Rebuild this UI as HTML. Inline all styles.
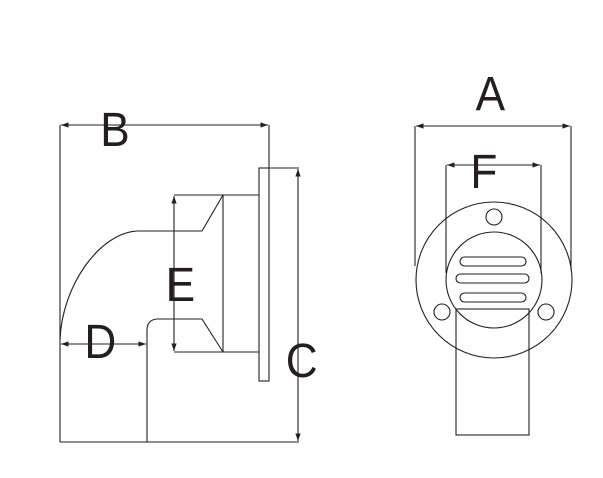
<!DOCTYPE html>
<html><head><style>body{margin:0;background:#fff}svg{display:block}</style></head><body>
<svg width="603" height="478" viewBox="0 0 603 478" xmlns="http://www.w3.org/2000/svg">
<defs><marker id="ar" viewBox="0 0 10 10" refX="10" refY="5" markerWidth="7" markerHeight="7" orient="auto-start-reverse"><path d="M0,1.5 L10,5 L0,8.5z" fill="#231f20"/></marker></defs>
<g fill="none" stroke="#231f20" stroke-width="1.1">
<line x1="60" y1="125" x2="60" y2="442"/>
<line x1="269" y1="125" x2="269" y2="168"/>
<line x1="61" y1="125" x2="268" y2="125" marker-start="url(#ar)" marker-end="url(#ar)"/>
<rect x="259" y="168" width="10" height="213"/>
<line x1="269" y1="168" x2="299" y2="168"/>
<line x1="298" y1="169" x2="298" y2="441" marker-start="url(#ar)" marker-end="url(#ar)"/>
<line x1="60" y1="442" x2="299" y2="442"/>
<line x1="174" y1="195" x2="259" y2="195"/>
<line x1="174" y1="352" x2="259" y2="352"/>
<line x1="174" y1="196" x2="174" y2="351" marker-start="url(#ar)" marker-end="url(#ar)"/>
<line x1="223" y1="195" x2="223" y2="352"/>
<path d="M223,195 L202,231 L137,231 C100,233 62,285 60,340"/>
<path d="M223,352 L202,319 L157,319 Q147,320 147,330 L147,442"/>
<line x1="61" y1="344" x2="146" y2="344" marker-start="url(#ar)" marker-end="url(#ar)"/>
<line x1="415" y1="126" x2="415" y2="266"/>
<line x1="571" y1="126" x2="571" y2="270"/>
<line x1="416" y1="126" x2="570" y2="126" marker-start="url(#ar)" marker-end="url(#ar)"/>
<line x1="446" y1="165" x2="446" y2="273"/>
<line x1="541" y1="165" x2="541" y2="273"/>
<line x1="447" y1="165" x2="540" y2="165" marker-start="url(#ar)" marker-end="url(#ar)"/>
<circle cx="494" cy="280" r="78"/>
<circle cx="494" cy="280" r="48"/>
<circle cx="494" cy="217" r="8"/>
<circle cx="442" cy="312" r="8"/>
<circle cx="546" cy="312" r="8"/>
<rect x="460" y="257" width="66" height="9" rx="4.5"/>
<rect x="456" y="274" width="73" height="9" rx="4.5"/>
<rect x="460" y="293" width="66" height="9" rx="4.5"/>
<rect x="456" y="309" width="73" height="126"/>
</g>
<g font-family="Liberation Sans, sans-serif" font-size="48" fill="#231f20" text-anchor="middle" transform="scale(0.92,1)">
<text x="125" y="146">B</text>
<text x="196" y="301">E</text>
<text x="109" y="358">D</text>
<text x="328" y="377">C</text>
<text x="533" y="110">A</text>
<text x="526" y="188">F</text>
</g>
</svg>
</body></html>
